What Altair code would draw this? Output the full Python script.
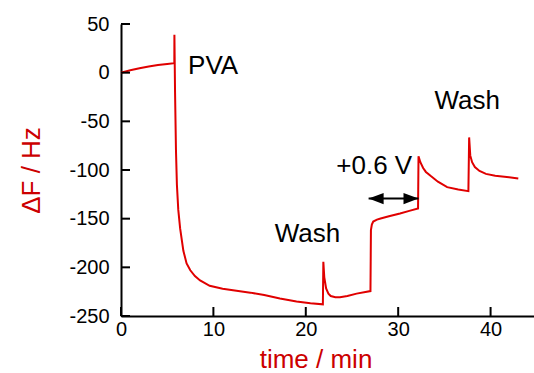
import altair as alt
import pandas as pd

# ---- data ----
time_min = [0, 1, 2, 3, 4, 5, 5.77,
            5.78, 5.85, 5.95, 6.05, 6.2, 6.4, 6.75, 7.1, 7.5, 8.0, 8.56, 9.6,
            11, 12.5, 14, 15.5, 17.2, 19, 20.5, 21.85,
            21.9, 22.0, 22.2, 22.45, 22.7, 23.2, 23.7, 24.5, 25.5, 27.0,
            27.05, 27.15, 27.3, 27.7, 28.1, 29, 30.2, 31.2, 32.15,
            32.2, 32.4, 32.7, 33.0, 33.5, 34.3, 35.3, 36.5, 37.6,
            37.68, 37.8, 38.0, 38.3, 38.8, 39.5, 40.5, 42, 43]
delta_f = [0, 2.5, 4.5, 6.3, 7.8, 9.0, 9.8,
           39, -20, -80, -115, -141, -160, -183, -196, -203, -209, -213.5, -219,
           -222, -224, -226, -228.5, -232, -235, -237, -238,
           -194.3, -210, -221.6, -227, -229.5, -230.8, -230.8, -229.5, -227, -224.4,
           -161.8, -156, -153, -151, -149.8, -147.5, -144.7, -142, -139.6,
           -86, -92, -98, -102, -106, -112, -117.6, -120, -121.7,
           -66.5, -85, -92, -97, -101, -104, -106, -107.5, -108.7]

y_ticks = [50, 0, -50, -100, -150, -200, -250]
x_ticks = [0, 10, 20, 30, 40]

ann_text = ["PVA", "Wash", "+0.6 V", "Wash"]
ann_t = [7.26, 20.18, 27.41, 37.47]
ann_f = [-1.8, -173.8, -103.7, -37.0]
ann_align = ["left", "center", "center", "center"]

arrow_t = [26.8, 32.2]
arrow_f = [-129.3, -129.3]

# ---- styling ----
FONT = "Liberation Sans"
LINE_RED = "#e00000"
TITLE_RED = "#cc0000"
W, H = 413, 292

xscale = alt.Scale(domain=[0, 44.7], nice=False, zero=False)
yscale = alt.Scale(domain=[-250, 50], nice=False, zero=False)

xaxis = alt.Axis(values=x_ticks, title="time / min", ticks=False, grid=False,
                 domainColor="black", domainWidth=2,
                 labelExpr="'' + datum.value",
                 labelFont=FONT, labelFontSize=20, labelColor="black",
                 labelPadding=3, labelFlush=False,
                 titleFont=FONT, titleFontSize=26, titleColor=TITLE_RED,
                 titleFontWeight="normal", titleX=194.5, titleY=51,
                 titleBaseline="alphabetic", titleAlign="center")
yaxis = alt.Axis(values=y_ticks, title="ΔF / Hz", ticks=False, grid=False,
                 domainColor="black", domainWidth=2,
                 labelExpr="'' + datum.value",
                 labelFont=FONT, labelFontSize=20, labelColor="black",
                 labelPadding=12, labelFlush=False,
                 titleFont=FONT, titleFontSize=26, titleColor=TITLE_RED,
                 titleFontWeight="normal", titleX=-82, titleY=146,
                 titleAngle=270, titleBaseline="alphabetic", titleAlign="center")


def X(field):
    return alt.X(field, scale=xscale, axis=xaxis)


def Y(field):
    return alt.Y(field, scale=yscale, axis=yaxis)


df = pd.DataFrame({"t": time_min, "f": delta_f})
line = alt.Chart(df).mark_line(color=LINE_RED, strokeWidth=2, interpolate="linear").encode(
    x=X("t:Q"), y=Y("f:Q"),
)

ytick_df = pd.DataFrame({"t": [0.0] * len(y_ticks), "f": y_ticks})
yticks = alt.Chart(ytick_df).mark_rule(color="black", strokeWidth=2).encode(
    y=Y("f:Q"), x=alt.value(0), x2=alt.value(9),
)
xtick_df = pd.DataFrame({"t": x_ticks, "f": [-250.0] * len(x_ticks)})
xticks = alt.Chart(xtick_df).mark_rule(color="black", strokeWidth=2).encode(
    x=X("t:Q"), y=alt.value(H), y2=alt.value(H - 9),
)

ann_df = pd.DataFrame({"text": ann_text, "t": ann_t, "f": ann_f, "align": ann_align})
ann_left = alt.Chart(ann_df[ann_df["align"] == "left"]).mark_text(
    font=FONT, fontSize=26, color="black", align="left", baseline="alphabetic"
).encode(x=X("t:Q"), y=Y("f:Q"), text="text:N")
ann_center = alt.Chart(ann_df[ann_df["align"] == "center"]).mark_text(
    font=FONT, fontSize=26, color="black", align="center", baseline="alphabetic"
).encode(x=X("t:Q"), y=Y("f:Q"), text="text:N")

arr_df = pd.DataFrame({"t": arrow_t, "f": arrow_f})
arrow_shaft = alt.Chart(arr_df).mark_line(color="black", strokeWidth=2).encode(
    x=X("t:Q"), y=Y("f:Q")
)
head_left = alt.Chart(arr_df.iloc[[0]]).mark_point(
    shape="M0,0L2,-0.75L2,0.75Z", filled=True, color="black", opacity=1, size=225, strokeWidth=0
).encode(x=X("t:Q"), y=Y("f:Q"))
head_right = alt.Chart(arr_df.iloc[[1]]).mark_point(
    shape="M0,0L-2,-0.75L-2,0.75Z", filled=True, color="black", opacity=1, size=225, strokeWidth=0
).encode(x=X("t:Q"), y=Y("f:Q"))

chart = alt.layer(line, yticks, xticks, ann_left, ann_center, arrow_shaft, head_left, head_right).properties(
    width=W, height=H,
    padding={"left": 121, "top": 24, "right": 0, "bottom": 57},
    autosize=alt.AutoSizeParams(type="none"),
    background="white",
).configure_view(stroke=None)

chart.save("out.html", embed_options={"renderer": "svg", "actions": False})
